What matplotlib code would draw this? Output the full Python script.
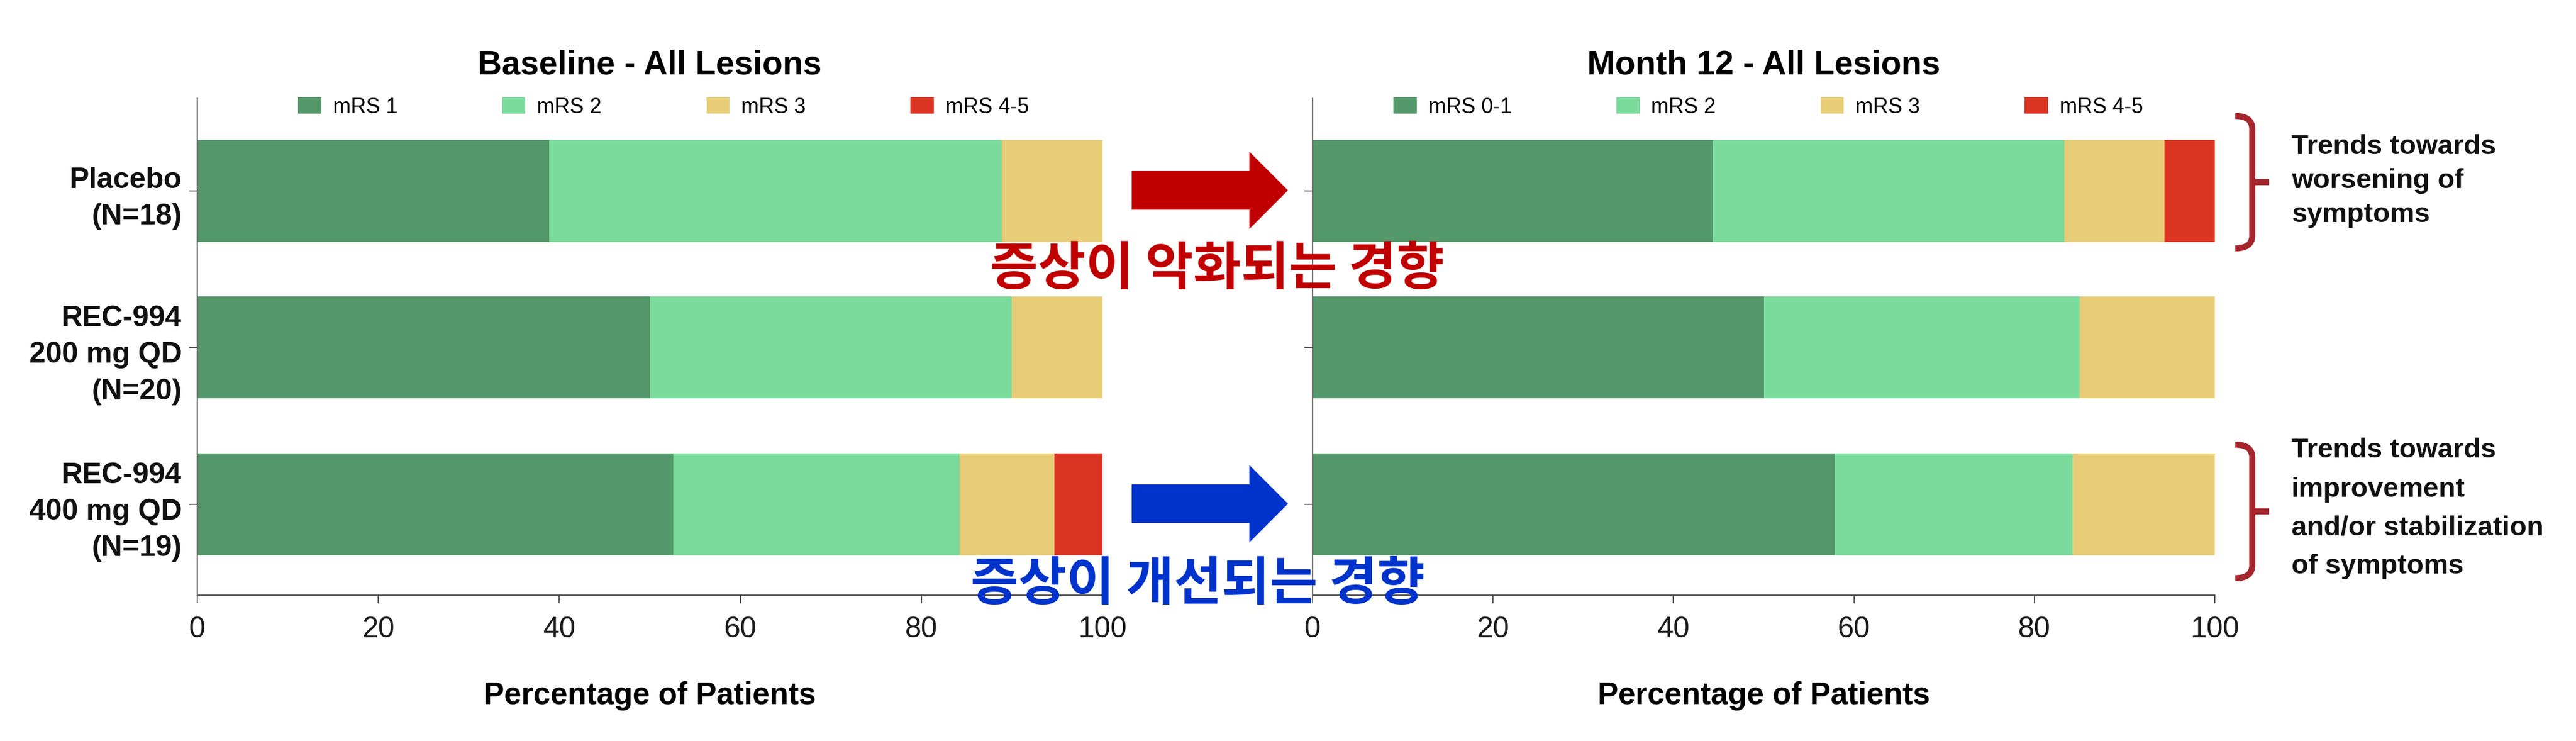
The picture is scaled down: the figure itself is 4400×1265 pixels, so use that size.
import matplotlib
matplotlib.use('Agg')
import matplotlib.pyplot as plt
import numpy as np
from matplotlib.patches import Polygon, PathPatch
from matplotlib.path import Path

# ---------------- data ----------------
groups = ['Placebo\n(N=18)', 'REC-994\n200 mg QD\n(N=20)', 'REC-994\n400 mg QD\n(N=19)']
baseline_labels = ['mRS 1', 'mRS 2', 'mRS 3', 'mRS 4-5']
month12_labels = ['mRS 0-1', 'mRS 2', 'mRS 3', 'mRS 4-5']

baseline_low = [38.9, 50.0, 52.6]
baseline_mrs2 = [50.0, 40.0, 31.6]
baseline_mrs3 = [11.1, 10.0, 10.5]
baseline_mrs45 = [0.0, 0.0, 5.3]

month12_low = [44.4, 50.0, 57.9]
month12_mrs2 = [38.9, 35.0, 26.3]
month12_mrs3 = [11.1, 15.0, 15.8]
month12_mrs45 = [5.6, 0.0, 0.0]

xticks = [0, 20, 40, 60, 80, 100]
titles = ['Baseline - All Lesions', 'Month 12 - All Lesions']
xlabel = 'Percentage of Patients'
worse_kr = '증상이 악화되는 경향'
better_kr = '증상이 개선되는 경향'
worse_en = ['Trends towards', 'worsening of', 'symptoms']
better_en = ['Trends towards', 'improvement', 'and/or stabilization', 'of symptoms']

colors = ['#53976A', '#7BDB9C', '#E8CD78', '#DC3422']

# ---------------- figure ----------------
W, H = 4400, 1265
plt.rcParams['font.family'] = ['Liberation Sans', 'DejaVu Sans']
fig = plt.figure(figsize=(W / 100, H / 100), dpi=100)
fig.patch.set_facecolor('white')


def fx(x):
    return x / W


def fy(y):
    return 1 - y / H


def px(x, y):
    return (fx(x), fy(y))


ax_top, ax_bot = 168, 1016
axL = fig.add_axes([fx(337), fy(ax_bot), (1883 - 337) / W, (ax_bot - ax_top) / H])
axR = fig.add_axes([fx(2242), fy(ax_bot), (3783 - 2242) / W, (ax_bot - ax_top) / H])


def draw(ax, series, labels, title, legend_x, show_ylabels):
    y = np.arange(len(groups))
    left = np.zeros(len(groups))
    for vals, lab, col in zip(series, labels, colors):
        ax.barh(y, vals, left=left, height=0.65, color=col, label=lab,
                edgecolor='none', linewidth=0)
        left += np.array(vals)
    ax.set_xlim(0, 100)
    ax.set_ylim(2.58, -0.59)
    ax.set_xticks(xticks)
    ax.set_xticklabels([str(t) for t in xticks])
    ax.set_yticks(y)
    if show_ylabels:
        ax.set_yticklabels(groups, fontsize=36, fontweight='bold', linespacing=1.45)
    else:
        ax.set_yticklabels([''] * len(groups))
    for s in ['top', 'right']:
        ax.spines[s].set_visible(False)
    for s in ['left', 'bottom']:
        ax.spines[s].set_color('#555555')
        ax.spines[s].set_linewidth(1.6)
    ax.tick_params(axis='x', length=10, width=1.4, color='#555555',
                   labelsize=36, pad=16, labelcolor='#1a1a1a')
    ax.tick_params(axis='y', length=10, width=1.4, color='#555555', pad=9,
                   labelcolor='#111111')
    ax.set_title(title, fontsize=41, fontweight='bold', pad=30)
    ax.set_xlabel(xlabel, fontsize=38, fontweight='bold', labelpad=47)
    ax.legend(loc='center', bbox_to_anchor=(legend_x, 0.982), ncol=4,
              frameon=False, fontsize=26, handlelength=1.1, handleheight=0.8,
              handletextpad=0.55, columnspacing=4.95, borderpad=0)


draw(axL, [baseline_low, baseline_mrs2, baseline_mrs3, baseline_mrs45],
     baseline_labels, titles[0], 0.515, True)
draw(axR, [month12_low, month12_mrs2, month12_mrs3, month12_mrs45],
     month12_labels, titles[1], 0.505, False)


# ---------------- arrows ----------------
def arrow(yc, color):
    x0, xb, xt = 1933, 2134, 2200
    sh, hh = 33, 66
    pts = [px(x0, yc - sh), px(xb, yc - sh), px(xb, yc - hh), px(xt, yc),
           px(xb, yc + hh), px(xb, yc + sh), px(x0, yc + sh)]
    fig.patches.append(Polygon(pts, closed=True, facecolor=color, edgecolor='none',
                               transform=fig.transFigure, figure=fig, zorder=5))


arrow(325, '#C00000')
arrow(860, '#0033CC')

kr_family = ['Noto Sans CJK KR', 'DejaVu Sans']
fig.text(fx(2079), fy(460), worse_kr, ha='center', va='center', fontsize=64,
         fontweight='bold', color='#C00000', family=kr_family, zorder=6)
fig.text(fx(2046), fy(998), better_kr, ha='center', va='center', fontsize=64,
         fontweight='bold', color='#0033CC', family=kr_family, zorder=6)


# ---------------- brackets ----------------
def bracket(y0, y1, color='#A5262C'):
    xL, xV, xT = 3818, 3847, 3876
    ym = (y0 + y1) / 2
    verts = [px(xL, y0), px(xV, y0), px(xV, y0 + 22), px(xV, y1 - 22),
             px(xV, y1), px(xL, y1), px(xV, ym), px(xT, ym)]
    codes = [Path.MOVETO, Path.CURVE3, Path.CURVE3, Path.LINETO,
             Path.CURVE3, Path.CURVE3, Path.MOVETO, Path.LINETO]
    fig.patches.append(PathPatch(Path(verts, codes), facecolor='none', edgecolor=color,
                                 linewidth=7.5, capstyle='butt', joinstyle='round',
                                 transform=fig.transFigure, figure=fig, zorder=5))


bracket(198, 424)
bracket(759, 987)

for line, yc in zip(worse_en, [249, 307, 365]):
    fig.text(fx(3914), fy(yc + 14), line, ha='left', va='baseline', fontsize=34,
             fontweight='bold', color='#111111')
for line, yc in zip(better_en, [767, 834, 899, 965]):
    fig.text(fx(3914), fy(yc + 14), line, ha='left', va='baseline', fontsize=34,
             fontweight='bold', color='#111111')

fig.savefig('out.png', dpi=100, facecolor='white')
